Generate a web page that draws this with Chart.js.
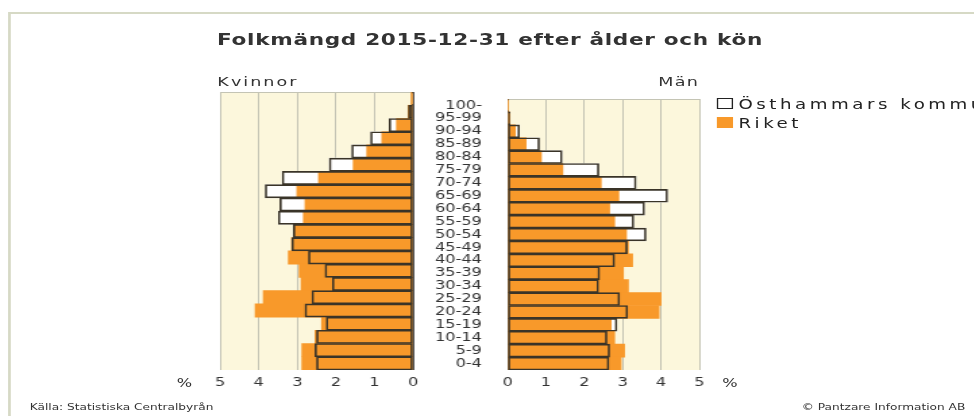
<!DOCTYPE html>
<html>
<head>
<meta charset="utf-8">
<script src="https://cdn.jsdelivr.net/npm/chart.js@4.4.0/dist/chart.umd.min.js"></script>
<style>
  html, body { margin: 0; padding: 0; background: #fff; }
  body { width: 974px; height: 416px; overflow: hidden; position: relative; }
  /* the reference is a horizontally stretched screenshot, so the whole stage is stretched */
  #stage {
    position: absolute; left: 0; top: 0; width: 722px; height: 416px;
    transform: scaleX(1.35); transform-origin: 0 0;
    font-family: 'DejaVu Sans', Verdana, sans-serif; color: #333;
  }
  #frame {
    position: absolute; left: 6px; top: 12px; width: 780px; height: 440px;
    border: 2px solid #d6d9c5; box-sizing: border-box;
  }
  .txt { position: absolute; white-space: nowrap; }
  #title { left: 2px; width: 722px; top: 30px; text-align: center; font-weight: bold; font-size: 16px; letter-spacing: 0.5px; }
  #kvinnor { left: 161px; top: 74px; font-size: 13px; letter-spacing: 1.5px; }
  #man { left: 480px; width: 38px; top: 74px; font-size: 13px; letter-spacing: 1px; text-align: right; }
  .pct { top: 376px; font-size: 12px; }
  .legend-box { position: absolute; left: 531px; width: 12px; height: 11px; box-sizing: border-box; }
  .legend-txt { left: 547px; font-size: 13.5px; letter-spacing: 2.6px; color: #222; }
  .foot { top: 402px; font-size: 9px; }
  .chart-box { position: absolute; }
</style>
</head>
<body>
<div id="stage">
  <div id="frame"></div>
  <div class="txt" id="title">Folkmängd 2015-12-31 efter ålder och kön</div>
  <div class="txt" id="kvinnor">Kvinnor</div>
  <div class="txt" id="man">Män</div>
  <div class="legend-box" style="top: 98px; border: 1px solid #222; background: #fff;"></div>
  <div class="txt legend-txt" style="top: 96px;">Östhammars kommun</div>
  <div class="legend-box" style="top: 117px; background: #f8992a;"></div>
  <div class="txt legend-txt" style="top: 115px;">Riket</div>
  <div class="txt pct" style="left: 131px;">%</div>
  <div class="txt pct" style="left: 535px;">%</div>
  <div class="txt foot" style="left: 22px;">Källa: Statistiska Centralbyrån</div>
  <div class="txt foot" style="right: 7px;">© Pantzare Information AB</div>
  <div class="chart-box" style="left: 153px; top: 82px;">
    <canvas id="kvinnorChart" width="163" height="312"></canvas>
  </div>
  <div class="chart-box" style="left: 316px; top: 82px;">
    <canvas id="manChart" width="212" height="312"></canvas>
  </div>
</div>
<script>
const ageGroups = [
  '100-', '95-99', '90-94', '85-89', '80-84', '75-79', '70-74',
  '65-69', '60-64', '55-59', '50-54', '45-49', '40-44', '35-39',
  '30-34', '25-29', '20-24', '15-19', '10-14', '5-9', '0-4'
]

// share of each sex (%), top row = 100-
const kvinnorOsthammar = [
  0.03, 0.12, 0.62, 1.1, 1.59, 2.17, 3.39, 3.83, 3.45, 3.49, 3.1,
  3.14, 2.71, 2.28, 2.09, 2.62, 2.8, 2.25, 2.5, 2.54, 2.5
]
const kvinnorRiket = [
  0.05, 0.13, 0.43, 0.81, 1.2, 1.55, 2.45, 3.01, 2.8, 2.84, 3.1,
  3.15, 3.23, 2.95, 2.9, 3.88, 4.09, 2.37, 2.54, 2.88, 2.88
]
const manOsthammar = [
  0.02, 0.06, 0.31, 0.83, 1.42, 2.38, 3.35, 4.17, 3.57, 3.29, 3.61,
  3.12, 2.79, 2.4, 2.37, 2.92, 3.13, 2.85, 2.59, 2.66, 2.64
]
const manRiket = [
  0.01, 0.06, 0.2, 0.48, 0.88, 1.44, 2.44, 2.9, 2.66, 2.79, 3.1,
  3.15, 3.26, 3.02, 3.15, 4.0, 3.95, 2.7, 2.79, 3.05, 2.96
]

const percentTicks = [0, 1, 2, 3, 4, 5]

const fontFamily = "'DejaVu Sans', Verdana, sans-serif"
const riketColor = '#f8992a'
const plotColor = '#fcf7dc'
const gridColor = '#c4c4b4'

const plotBackground = {
  id: 'plotBackground',
  beforeDraw(chart) {
    const { ctx, chartArea } = chart
    ctx.save()
    ctx.fillStyle = plotColor
    ctx.fillRect(
      chartArea.left,
      chartArea.top,
      chartArea.right - chartArea.left,
      chartArea.bottom - chartArea.top
    )
    ctx.strokeStyle = gridColor
    ctx.lineWidth = 1
    ctx.beginPath()
    ctx.moveTo(chartArea.left, chartArea.top + 0.5)
    ctx.lineTo(chartArea.right, chartArea.top + 0.5)
    ctx.stroke()
    ctx.restore()
  }
}

function buildDatasets(osthammar, riket) {
  return [
    {
      // outline drawn on top of everything
      label: 'Östhammars kommun',
      data: osthammar,
      backgroundColor: 'rgba(0, 0, 0, 0)',
      borderColor: '#3a3428',
      borderWidth: 1,
      borderSkipped: false,
      grouped: false,
      barPercentage: 1,
      categoryPercentage: 1
    },
    {
      label: 'Riket',
      data: riket,
      backgroundColor: riketColor,
      borderWidth: 0,
      grouped: false,
      barPercentage: 1,
      categoryPercentage: 1
    },
    {
      // white fill of the kommun bars, under Riket
      label: 'Östhammars kommun (fyllning)',
      data: osthammar,
      backgroundColor: '#ffffff',
      borderWidth: 0,
      grouped: false,
      barPercentage: 1,
      categoryPercentage: 1
    }
  ]
}

function buildOptions(isLeft) {
  return {
    indexAxis: 'y',
    responsive: false,
    animation: false,
    layout: {
      padding: { top: 10, bottom: 0, left: isLeft ? 10 : 0, right: 10 }
    },
    plugins: {
      legend: { display: false },
      tooltip: { enabled: false },
      title: { display: false }
    },
    scales: {
      x: {
        type: 'linear',
        min: 0,
        max: 5,
        reverse: isLeft,
        afterBuildTicks: function (axis) {
          axis.ticks = percentTicks.map((v) => ({ value: v }))
        },
        afterFit: function (axis) {
          axis.height = 24
        },
        ticks: {
          color: '#333',
          padding: 6,
          font: { family: fontFamily, size: 12 }
        },
        grid: {
          drawTicks: false,
          color: (ctx) => (ctx.tick && ctx.tick.value === 0 ? '#555' : gridColor)
        },
        border: { display: false }
      },
      y: {
        type: 'category',
        labels: ageGroups,
        display: !isLeft,
        afterFit: function (axis) {
          axis.width = isLeft ? 0 : 60
        },
        ticks: {
          autoSkip: false,
          color: '#333',
          padding: 11,
          font: { family: fontFamily, size: 12, lineHeight: 1 }
        },
        grid: { display: false },
        border: { display: false }
      }
    }
  }
}

new Chart(document.getElementById('kvinnorChart'), {
  type: 'bar',
  data: {
    labels: ageGroups,
    datasets: buildDatasets(kvinnorOsthammar, kvinnorRiket)
  },
  options: buildOptions(true),
  plugins: [plotBackground]
})

new Chart(document.getElementById('manChart'), {
  type: 'bar',
  data: {
    labels: ageGroups,
    datasets: buildDatasets(manOsthammar, manRiket)
  },
  options: buildOptions(false),
  plugins: [plotBackground]
})
</script>
</body>
</html>
